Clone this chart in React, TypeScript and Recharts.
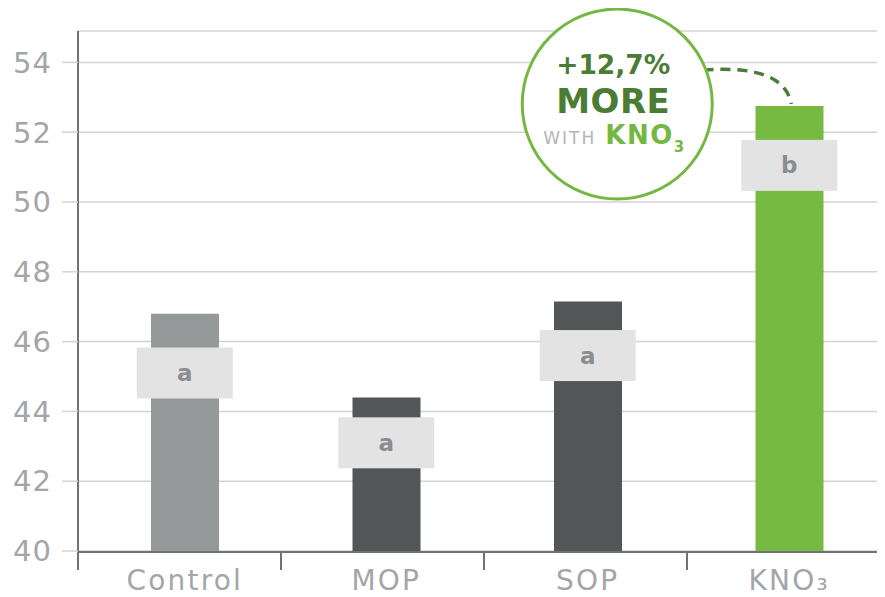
import React from 'react';
import {
  Bar,
  CartesianGrid,
  Cell,
  ComposedChart,
  ReferenceDot,
  Scatter,
  XAxis,
  YAxis,
} from 'recharts';

const categories = ['Control', 'MOP', 'SOP', 'KNO₃'];
const yieldValues = [46.8, 44.4, 47.15, 52.75];
const letterLevels = [45.1, 43.1, 45.6, 51.05];
const letters = ['a', 'a', 'a', 'b'];
const barColors = ['#959999', '#525656', '#525656', '#77ba42'];
const yTicks = [40, 42, 44, 46, 48, 50, 52, 54];
const separatorTicks = [0, 1, 2, 3, 4];

const data = categories.map((name, i) => ({
  name,
  slot: i,
  value: yieldValues[i],
  letterLevel: letterLevels[i],
  letter: letters[i],
}));

const controlValue = yieldValues[0];
const knoValue = yieldValues[3];
const gainText = '+' + ((knoValue / controlValue - 1) * 100).toFixed(1).replace('.', ',') + '%';

const axisGray = '#6f7375';
const gridGray = '#d2d3d3';
const labelGray = '#a3a6a8';
const darkGreen = '#4b7c33';
const lightGreen = '#74b843';

// axis ids: 0 = group separator ticks (sits on the plot edge), 1 = category names
const SEP_AXIS = 0;
const CAT_AXIS = 1;

const LetterBox = (props: any) => {
  const { cx, cy, payload } = props;
  if (cx == null || cy == null) return null;
  return (
    <g>
      <rect x={cx - 48} y={cy - 25.5} width={96} height={51} fill="#e3e3e3" />
      <text
        x={cx}
        y={cy + 8}
        textAnchor="middle"
        fontFamily="DejaVu Sans"
        fontWeight="bold"
        fontSize={23}
        fill="#8a8d8f"
      >
        {payload.letter}
      </text>
    </g>
  );
};

// bubble with the gain over control, hooked to the top of the KNO3 bar
const GainCallout = (props: any) => {
  const { cx, cy } = props;
  if (cx == null || cy == null) return null;
  const ccx = cx - 172;
  const ccy = cy - 2;
  return (
    <g>
      <path
        d={`M ${cx - 86} ${cy - 36} Q ${cx - 5} ${cy - 42} ${cx + 2} ${cy - 2}`}
        fill="none"
        stroke={darkGreen}
        strokeWidth={3.5}
        strokeDasharray="10 7"
      />
      <circle cx={ccx} cy={ccy} r={95} fill="#fff" stroke={lightGreen} strokeWidth={3} />
      <text
        x={ccx - 4}
        y={ccy - 30}
        textAnchor="middle"
        fontFamily="DejaVu Sans"
        fontWeight="bold"
        fontSize={26.5}
        fill={darkGreen}
      >
        {gainText}
      </text>
      <text
        x={ccx - 4}
        y={ccy + 9}
        textAnchor="middle"
        fontFamily="DejaVu Sans"
        fontWeight="bold"
        fontSize={34}
        letterSpacing={0.5}
        fill={darkGreen}
      >
        MORE
      </text>
      <text x={ccx - 74} y={ccy + 40} fontFamily="DejaVu Sans">
        <tspan fontSize={17} fill="#b3b5b6" letterSpacing={2}>
          WITH
        </tspan>
        <tspan dx={9} fontSize={26} fontWeight="bold" fill={lightGreen} letterSpacing={1.5}>
          KNO
        </tspan>
        <tspan dy={8} fontSize={15} fontWeight="bold" fill={lightGreen}>
          3
        </tspan>
      </text>
    </g>
  );
};

export default function App() {
  return (
    <div style={{ width: 877, height: 589, overflow: 'hidden' }}>
      <ComposedChart
        width={882}
        height={589}
        data={data}
        margin={{ top: 23, right: 0, bottom: 0, left: 0 }}
      >
        <CartesianGrid vertical={false} stroke={gridGray} strokeWidth={1.5} />
        <XAxis
          xAxisId={SEP_AXIS}
          dataKey="slot"
          type="number"
          scale="linear"
          domain={[0, 4]}
          allowDataOverflow
          ticks={separatorTicks}
          height={1}
          axisLine={false}
          tickFormatter={() => ''}
          tickSize={19}
          tickLine={{ stroke: axisGray, strokeWidth: 2 }}
        />
        <XAxis
          xAxisId={CAT_AXIS}
          dataKey="name"
          height={45}
          padding={{ left: 6, right: 0 }}
          axisLine={{ stroke: axisGray, strokeWidth: 2 }}
          tickLine={false}
          tickSize={0}
          tickMargin={18}
          tick={{ fill: labelGray, fontSize: 28, fontFamily: 'DejaVu Sans', letterSpacing: 2.2 }}
        />
        <YAxis
          domain={[40, 54.9]}
          ticks={yTicks}
          width={70}
          axisLine={{ stroke: axisGray, strokeWidth: 2 }}
          tickSize={16}
          tickMargin={10}
          tickLine={{ stroke: gridGray, strokeWidth: 1.5 }}
          tick={{ fill: labelGray, fontSize: 29, fontFamily: 'DejaVu Sans', letterSpacing: 1 }}
        />
        <Bar xAxisId={CAT_AXIS} dataKey="value" barSize={68} isAnimationActive={false}>
          {data.map((_, i) => (
            <Cell key={`bar-${i}`} fill={barColors[i]} />
          ))}
        </Bar>
        <Scatter
          xAxisId={CAT_AXIS}
          dataKey="letterLevel"
          shape={<LetterBox />}
          isAnimationActive={false}
        />
        <ReferenceDot
          xAxisId={CAT_AXIS}
          x={categories[3]}
          y={knoValue}
          r={0}
          ifOverflow="visible"
          shape={<GainCallout />}
        />
      </ComposedChart>
    </div>
  );
}
